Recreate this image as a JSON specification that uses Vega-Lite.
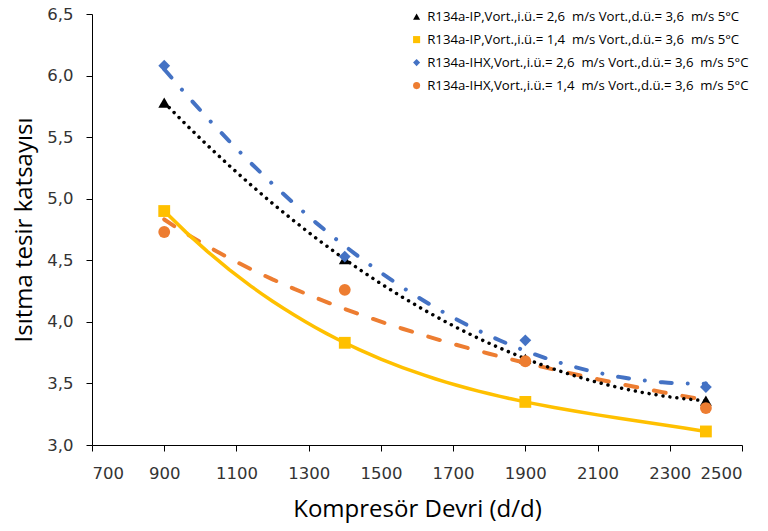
{
  "$schema": "https://vega.github.io/schema/vega-lite/v6.json",
  "width": 650,
  "height": 431,
  "autosize": {"type": "none"},
  "padding": {"left": 92, "top": 14, "right": 26, "bottom": 86},
  "background": "white",
  "config": {
    "view": {"stroke": null},
    "axis": {
      "grid": false,
      "domainColor": "#000000",
      "tickColor": "#000000",
      "tickSize": 6,
      "labelFont": "DejaVu Sans",
      "labelFontSize": 16.5,
      "labelColor": "#333333",
      "titleFont": "Open Sans",
      "titleFontSize": 24,
      "titleFontWeight": "normal",
      "titleColor": "#000000"
    }
  },
  "data": {
    "values": [
      {"kod": "A", "seri": "R134a-IP,Vort.,i.ü.= 2,6\u00a0 m/s Vort.,d.ü.= 3,6\u00a0 m/s 5°C", "devir": 900, "cop": 5.78},
      {"kod": "A", "seri": "R134a-IP,Vort.,i.ü.= 2,6\u00a0 m/s Vort.,d.ü.= 3,6\u00a0 m/s 5°C", "devir": 1400, "cop": 4.51},
      {"kod": "A", "seri": "R134a-IP,Vort.,i.ü.= 2,6\u00a0 m/s Vort.,d.ü.= 3,6\u00a0 m/s 5°C", "devir": 1900, "cop": 3.70},
      {"kod": "A", "seri": "R134a-IP,Vort.,i.ü.= 2,6\u00a0 m/s Vort.,d.ü.= 3,6\u00a0 m/s 5°C", "devir": 2400, "cop": 3.36},
      {"kod": "B", "seri": "R134a-IP,Vort.,i.ü.= 1,4\u00a0 m/s Vort.,d.ü.= 3,6\u00a0 m/s 5°C", "devir": 900, "cop": 4.90},
      {"kod": "B", "seri": "R134a-IP,Vort.,i.ü.= 1,4\u00a0 m/s Vort.,d.ü.= 3,6\u00a0 m/s 5°C", "devir": 1400, "cop": 3.83},
      {"kod": "B", "seri": "R134a-IP,Vort.,i.ü.= 1,4\u00a0 m/s Vort.,d.ü.= 3,6\u00a0 m/s 5°C", "devir": 1900, "cop": 3.35},
      {"kod": "B", "seri": "R134a-IP,Vort.,i.ü.= 1,4\u00a0 m/s Vort.,d.ü.= 3,6\u00a0 m/s 5°C", "devir": 2400, "cop": 3.11},
      {"kod": "C", "seri": "R134a-IHX,Vort.,i.ü.= 2,6\u00a0 m/s Vort.,d.ü.= 3,6\u00a0 m/s 5°C", "devir": 900, "cop": 6.08},
      {"kod": "C", "seri": "R134a-IHX,Vort.,i.ü.= 2,6\u00a0 m/s Vort.,d.ü.= 3,6\u00a0 m/s 5°C", "devir": 1400, "cop": 4.53},
      {"kod": "C", "seri": "R134a-IHX,Vort.,i.ü.= 2,6\u00a0 m/s Vort.,d.ü.= 3,6\u00a0 m/s 5°C", "devir": 1900, "cop": 3.85},
      {"kod": "C", "seri": "R134a-IHX,Vort.,i.ü.= 2,6\u00a0 m/s Vort.,d.ü.= 3,6\u00a0 m/s 5°C", "devir": 2400, "cop": 3.47},
      {"kod": "D", "seri": "R134a-IHX,Vort.,i.ü.= 1,4\u00a0 m/s Vort.,d.ü.= 3,6\u00a0 m/s 5°C", "devir": 900, "cop": 4.73},
      {"kod": "D", "seri": "R134a-IHX,Vort.,i.ü.= 1,4\u00a0 m/s Vort.,d.ü.= 3,6\u00a0 m/s 5°C", "devir": 1400, "cop": 4.26},
      {"kod": "D", "seri": "R134a-IHX,Vort.,i.ü.= 1,4\u00a0 m/s Vort.,d.ü.= 3,6\u00a0 m/s 5°C", "devir": 1900, "cop": 3.68},
      {"kod": "D", "seri": "R134a-IHX,Vort.,i.ü.= 1,4\u00a0 m/s Vort.,d.ü.= 3,6\u00a0 m/s 5°C", "devir": 2400, "cop": 3.30}
    ]
  },
  "encoding": {
    "x": {
      "field": "devir", "type": "quantitative",
      "scale": {"domain": [700, 2500], "nice": false, "zero": false},
      "axis": {"values": [700, 900, 1100, 1300, 1500, 1700, 1900, 2100, 2300, 2500], "format": "d", "labelPadding": 14, "titlePadding": 16, "title": "Kompresör Devri (d/d)"}
    },
    "y": {
      "field": "cop", "type": "quantitative",
      "scale": {"domain": [3, 6.5], "nice": false, "zero": false},
      "axis": {"values": [3, 3.5, 4, 4.5, 5, 5.5, 6, 6.5], "labelExpr": "replace(format(datum.value, '.1f'), '.', ',')", "labelPadding": 13, "titlePadding": 10, "title": "Isıtma tesir katsayısı"}
    }
  },
  "layer": [
    {
      "transform": [{"filter": "datum.kod == 'D'"}, {"regression": "cop", "on": "devir", "method": "pow"}],
      "mark": {"type": "line", "color": "#ED7D31", "strokeWidth": 4, "strokeDash": [12, 17], "strokeCap": "round"}
    },
    {
      "transform": [{"filter": "datum.kod == 'C'"}, {"regression": "cop", "on": "devir", "method": "poly", "order": 2}],
      "mark": {"type": "line", "color": "#4472C4", "strokeWidth": 4, "strokeDash": [11, 16, 0.01, 16], "strokeCap": "round"}
    },
    {
      "transform": [{"filter": "datum.kod == 'B'"}, {"regression": "cop", "on": "devir", "method": "poly", "order": 3}],
      "mark": {"type": "line", "color": "#FFC000", "strokeWidth": 3.5}
    },
    {
      "transform": [{"filter": "datum.kod == 'A'"}, {"regression": "cop", "on": "devir", "method": "poly", "order": 2}],
      "mark": {"type": "line", "color": "#000000", "strokeWidth": 3.5, "strokeDash": [0.01, 7], "strokeCap": "round"}
    },
    {
      "mark": {"type": "point", "filled": true, "opacity": 1, "size": 140, "strokeWidth": 0},
      "encoding": {
        "shape": {
          "field": "seri", "type": "nominal",
          "scale": {
            "domain": [
              "R134a-IP,Vort.,i.ü.= 2,6\u00a0 m/s Vort.,d.ü.= 3,6\u00a0 m/s 5°C",
              "R134a-IP,Vort.,i.ü.= 1,4\u00a0 m/s Vort.,d.ü.= 3,6\u00a0 m/s 5°C",
              "R134a-IHX,Vort.,i.ü.= 2,6\u00a0 m/s Vort.,d.ü.= 3,6\u00a0 m/s 5°C",
              "R134a-IHX,Vort.,i.ü.= 1,4\u00a0 m/s Vort.,d.ü.= 3,6\u00a0 m/s 5°C"
            ],
            "range": ["triangle-up", "square", "diamond", "circle"]
          },
          "legend": {
            "title": null, "orient": "none", "legendX": 318, "legendY": -4,
            "labelFont": "Open Sans", "labelFontSize": 13.2, "labelColor": "#000000",
            "labelLimit": 500, "symbolSize": 50, "rowPadding": 9, "symbolStrokeWidth": 0
          }
        },
        "color": {
          "field": "seri", "type": "nominal",
          "scale": {
            "domain": [
              "R134a-IP,Vort.,i.ü.= 2,6\u00a0 m/s Vort.,d.ü.= 3,6\u00a0 m/s 5°C",
              "R134a-IP,Vort.,i.ü.= 1,4\u00a0 m/s Vort.,d.ü.= 3,6\u00a0 m/s 5°C",
              "R134a-IHX,Vort.,i.ü.= 2,6\u00a0 m/s Vort.,d.ü.= 3,6\u00a0 m/s 5°C",
              "R134a-IHX,Vort.,i.ü.= 1,4\u00a0 m/s Vort.,d.ü.= 3,6\u00a0 m/s 5°C"
            ],
            "range": ["#000000", "#FFC000", "#4472C4", "#ED7D31"]
          },
          "legend": {
            "title": null, "orient": "none", "legendX": 318, "legendY": -4,
            "labelFont": "Open Sans", "labelFontSize": 13.2, "labelColor": "#000000",
            "labelLimit": 500, "symbolSize": 50, "rowPadding": 9, "symbolStrokeWidth": 0
          }
        }
      }
    }
  ]
}
